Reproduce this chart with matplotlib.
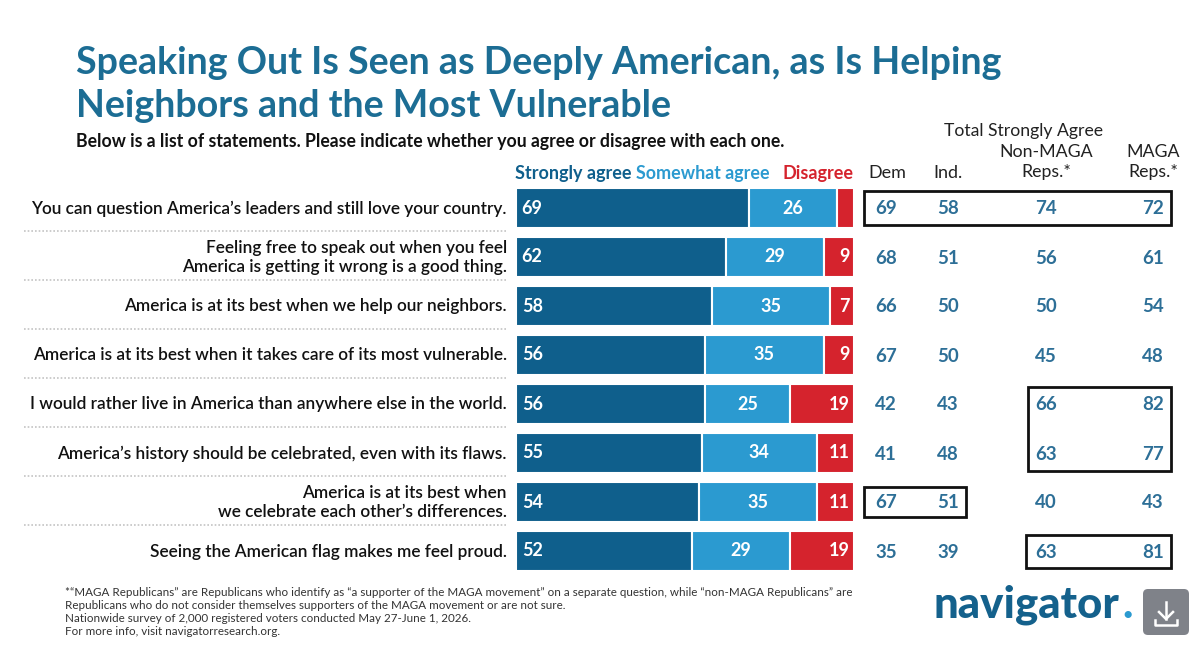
import matplotlib
matplotlib.use('Agg')
import matplotlib.pyplot as plt
from matplotlib.patches import Rectangle, FancyBboxPatch

plt.rcParams['font.family'] = ['Lato', 'DejaVu Sans']

W, H = 1200, 651

statements = [
    "You can question America\u2019s leaders and still love your country.",
    "Feeling free to speak out when you feel\nAmerica is getting it wrong is a good thing.",
    "America is at its best when we help our neighbors.",
    "America is at its best when it takes care of its most vulnerable.",
    "I would rather live in America than anywhere else in the world.",
    "America\u2019s history should be celebrated, even with its flaws.",
    "America is at its best when\nwe celebrate each other\u2019s differences.",
    "Seeing the American flag makes me feel proud.",
]
strongly = [69, 62, 58, 56, 56, 55, 54, 52]
somewhat = [26, 29, 35, 35, 25, 34, 35, 29]
disagree = [5, 9, 7, 9, 19, 11, 11, 19]
dem = [69, 68, 66, 67, 42, 41, 67, 35]
ind = [58, 51, 50, 50, 43, 48, 51, 39]
non_maga = [74, 56, 50, 45, 66, 63, 40, 63]
maga = [72, 61, 54, 48, 82, 77, 43, 81]

DARK = '#0f5f8c'
MID = '#2b9ad0'
RED = '#d5232d'
TITLE = '#1c6d94'
NUM = '#2d6f97'

fig = plt.figure(figsize=(12, 6.51), dpi=100)

# page layer in pixel coordinates
page = fig.add_axes([0, 0, 1, 1])
page.set_xlim(0, W)
page.set_ylim(H, 0)
page.axis('off')

page.text(76, 63, "Speaking Out Is Seen as Deeply American, as Is Helping", fontsize=27.1,
          fontweight='bold', color=TITLE, va='center')
page.text(76, 106, "Neighbors and the Most Vulnerable", fontsize=27.1,
          fontweight='bold', color=TITLE, va='center')
page.text(76, 141, "Below is a list of statements. Please indicate whether you agree or disagree with each one.",
          fontsize=12.7, fontweight='bold', color='#111111', va='center')

# bars
bar_ax = fig.add_axes([516 / W, 1 - 575.5 / H, 338 / W, 392 / H])
ys = list(range(len(statements)))
bar_ax.barh(ys, strongly, height=0.82, color=DARK, edgecolor='white', linewidth=1.5)
bar_ax.barh(ys, somewhat, left=strongly, height=0.82, color=MID, edgecolor='white', linewidth=1.5)
lefts = [a + b for a, b in zip(strongly, somewhat)]
bar_ax.barh(ys, disagree, left=lefts, height=0.82, color=RED, edgecolor='white', linewidth=1.5)
bar_ax.set_xlim(0, 100)
bar_ax.set_ylim(7.5, -0.5)
bar_ax.axis('off')

for i in ys:
    bar_ax.text(1.7, i, str(strongly[i]), color='white', fontsize=13, fontweight='bold', va='center', ha='left')
    bar_ax.text(lefts[i] - somewhat[i] / 2, i, str(somewhat[i]), color='white', fontsize=13,
                fontweight='bold', va='center', ha='center')
    if disagree[i] > 5:
        bar_ax.text(98.8, i, str(disagree[i]), color='white', fontsize=13, fontweight='bold',
                    va='center', ha='right')

# row labels and dotted separators
for i, label in enumerate(statements):
    yc = 208 + 49 * i
    page.text(507, yc + 0.5, label, fontsize=12.4, fontweight='semibold', color='#111111', ha='right', va='center',
              linespacing=1.25)
    if i < len(statements) - 1:
        page.plot([24, 507], [yc + 23, yc + 23], color='#c4c4c4', lw=1.2, ls=(0, (1, 1.2)))

# legend
page.text(515, 173, "Strongly agree", color=DARK, fontsize=13, fontweight='bold', va='center')
page.text(636, 173, "Somewhat agree", color=MID, fontsize=12.9, fontweight='bold', va='center')
page.text(783, 173, "Disagree", color=RED, fontsize=13, fontweight='bold', va='center')

# table headers
page.text(1024, 131, "Total Strongly Agree", fontsize=12.7, color='#222222', ha='center', va='center')
page.text(887, 173, "Dem", fontsize=13, color='#222222', ha='center', va='center')
page.text(948, 173, "Ind.", fontsize=13, color='#222222', ha='center', va='center')
page.text(1046, 162, "Non-MAGA\nReps.*", fontsize=12.8, color='#222222', ha='center', va='center', linespacing=1.25)
page.text(1153, 162, "MAGA\nReps.*", fontsize=12.8, color='#222222', ha='center', va='center', linespacing=1.25)

# table values
for col_x, col in zip([886, 948, 1046, 1153], [dem, ind, non_maga, maga]):
    for i, v in enumerate(col):
        page.text(col_x, 209 + 49 * i, str(v), fontsize=13.5, fontweight='bold', color=NUM, ha='center', va='center')

# highlight boxes
for x0, y0, x1, y1 in [(864, 191, 1171, 225), (1028, 387, 1171, 471), (864, 487, 966, 517), (1026, 535, 1171, 568)]:
    page.add_patch(Rectangle((x0, y0), x1 - x0, y1 - y0, fill=False, edgecolor='#111111', lw=2))

# footnote
notes = [
    "*\u201cMAGA Republicans\u201d are Republicans who identify as \u201ca supporter of the MAGA movement\u201d on a separate question, while \u201cnon-MAGA Republicans\u201d are",
    "Republicans who do not consider themselves supporters of the MAGA movement or are not sure.",
    "Nationwide survey of 2,000 registered voters conducted May 27-June 1, 2026.",
    "For more info, visit navigatorresearch.org.",
]
for i, line in enumerate(notes):
    page.text(65, 592 + 13.3 * i, line, fontsize=8.35, color='#333333', va='center')

# logo and download button
page.text(933, 605, "navigator", fontsize=31.5, fontweight='black', color='#14618c', va='center')
page.text(1122, 605, ".", fontsize=31.5, fontweight='black', color=MID, va='center')
page.add_patch(FancyBboxPatch((1143, 589), 46, 46, boxstyle='round,pad=0,rounding_size=5', facecolor='#7f8289',
                              edgecolor='none'))
page.plot([1166, 1166], [602, 619], color='white', lw=1.8)
page.plot([1159, 1166, 1173], [612, 619, 612], color='white', lw=1.8)
page.plot([1155, 1155, 1177, 1177], [620, 625, 625, 620], color='white', lw=1.8)

fig.savefig('out.png', dpi=100)
